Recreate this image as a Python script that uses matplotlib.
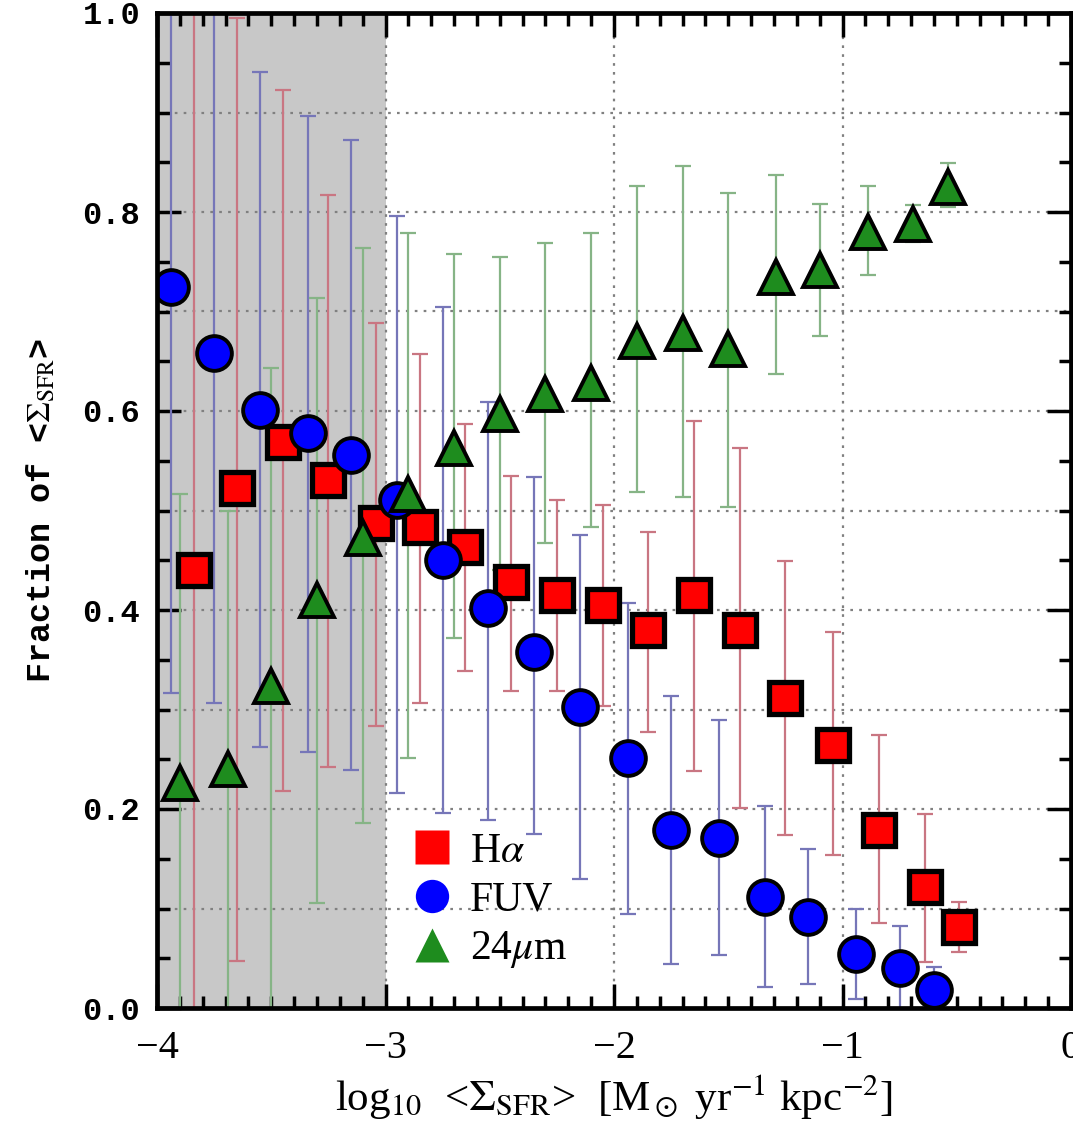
import matplotlib
matplotlib.use("Agg")
import matplotlib.pyplot as plt
import numpy as np
from matplotlib.ticker import MultipleLocator, FixedLocator, FuncFormatter
from matplotlib.lines import Line2D

plt.rcParams['mathtext.fontset'] = 'stix'

# ---- data ----
x_ha = [-3.84, -3.65, -3.45, -3.25, -3.04, -2.85, -2.65, -2.45, -2.25, -2.05,
        -1.85, -1.65, -1.45, -1.25, -1.04, -0.84, -0.64, -0.49]
y_ha = [0.440, 0.523, 0.569, 0.531, 0.487, 0.483, 0.463, 0.428, 0.415, 0.405,
        0.380, 0.415, 0.380, 0.312, 0.264, 0.179, 0.122, 0.081]
ha_hi = [1.05, 0.995, 0.923, 0.817, 0.688, 0.657, 0.587, 0.535, 0.511, 0.506,
         0.478, 0.590, 0.563, 0.449, 0.378, 0.274, 0.195, 0.107]
ha_lo = [-0.05, 0.047, 0.218, 0.242, 0.283, 0.307, 0.339, 0.319, 0.319, 0.304,
         0.277, 0.238, 0.201, 0.174, 0.154, 0.085, 0.046, 0.056]

x_fuv = [-3.94, -3.75, -3.55, -3.34, -3.15, -2.95, -2.75, -2.55, -2.35, -2.15,
         -1.94, -1.75, -1.54, -1.34, -1.15, -0.94, -0.75, -0.60]
y_fuv = [0.725, 0.658, 0.601, 0.578, 0.556, 0.511, 0.450, 0.402, 0.358, 0.303,
         0.251, 0.179, 0.171, 0.112, 0.091, 0.054, 0.040, 0.018]
fuv_hi = [1.05, 1.05, 0.941, 0.896, 0.872, 0.796, 0.705, 0.609, 0.534, 0.475,
          0.407, 0.314, 0.289, 0.203, 0.160, 0.100, 0.082, 0.041]
fuv_lo = [0.317, 0.307, 0.262, 0.257, 0.239, 0.216, 0.196, 0.189, 0.175, 0.130,
          0.094, 0.044, 0.053, 0.021, 0.024, 0.009, -0.05, -0.05]

x_24 = [-3.90, -3.69, -3.50, -3.30, -3.10, -2.90, -2.70, -2.50, -2.30, -2.10,
        -1.90, -1.70, -1.50, -1.29, -1.10, -0.89, -0.69, -0.54]
y_24 = [0.226, 0.240, 0.324, 0.410, 0.472, 0.517, 0.563, 0.597, 0.617, 0.628,
        0.670, 0.678, 0.662, 0.735, 0.742, 0.780, 0.788, 0.825]
hi_24 = [0.517, 0.500, 0.643, 0.714, 0.764, 0.779, 0.758, 0.755, 0.769, 0.779,
         0.826, 0.846, 0.819, 0.837, 0.808, 0.826, 0.807, 0.849]
lo_24 = [-0.05, -0.05, -0.05, 0.106, 0.186, 0.251, 0.372, 0.440, 0.467, 0.483,
         0.519, 0.514, 0.504, 0.637, 0.675, 0.737, 0.770, 0.805]

labels = [r"H$\alpha$", "FUV", r"24$\mu$m"]
x_ticks = [-4, -3, -2, -1, 0]
y_ticks = [0.0, 0.2, 0.4, 0.6, 0.8, 1.0]
shade_range = [-4, -3]

# ---- figure ----
W, H = 1073, 1126
fig = plt.figure(figsize=(W / 100, H / 100), dpi=100)
ax = fig.add_axes([157 / W, 1 - 1008 / H, (1071 - 157) / W, (1008 - 13) / H])
ax.set_xlim(-4, 0)
ax.set_ylim(0, 1)

ax.axvspan(shade_range[0], shade_range[1], color='#c8c8c8', lw=0, zorder=0)

gcol = '#808080'
for yv in np.arange(0.1, 0.95, 0.1):
    ax.axhline(yv, color=gcol, lw=1.6, ls=(0, (1.2, 2.8)), zorder=1)
for xv in [-3, -2, -1]:
    ax.axvline(xv, color=gcol, lw=1.6, ls=(0, (1.2, 2.8)), zorder=1)


def err(y, lo, hi):
    y = np.array(y); lo = np.array(lo); hi = np.array(hi)
    return [y - lo, hi - y]


ekw = dict(fmt='none', elinewidth=1.6, capsize=6, capthick=1.6)
ax.errorbar(x_ha, y_ha, yerr=err(y_ha, ha_lo, ha_hi), ecolor='#c97682', zorder=2, **ekw)
ax.errorbar(x_fuv, y_fuv, yerr=err(y_fuv, fuv_lo, fuv_hi), ecolor='#7676b8', zorder=2, **ekw)
ax.errorbar(x_24, y_24, yerr=err(y_24, lo_24, hi_24), ecolor='#86b486', zorder=2, **ekw)

ax.plot(x_ha, y_ha, 's', ms=23, mfc='#ff0000', mec='black', mew=3.8, ls='none', zorder=3)
ax.plot(x_fuv, y_fuv, 'o', ms=25, mfc='#0000ff', mec='black', mew=2.8, ls='none', zorder=4)
ax.plot(x_24, y_24, '^', ms=25, mfc='#1e8c1e', mec='black', mew=2.8, ls='none', zorder=5)

# legend
handles = [
    Line2D([], [], marker='s', ls='none', ms=24, mfc='#ff0000', mec='none'),
    Line2D([], [], marker='o', ls='none', ms=24, mfc='#0000ff', mec='none'),
    Line2D([], [], marker='^', ls='none', ms=24, mfc='#1e8c1e', mec='none'),
]
leg = ax.legend(handles, labels, loc='lower left', bbox_to_anchor=(0.26, 0.021),
                frameon=False, prop={'family': 'Liberation Serif', 'size': 30},
                handlelength=1.0, handletextpad=0.4, labelspacing=0.24,
                borderaxespad=0.0)
leg.set_zorder(6)

# ticks
ax.xaxis.set_major_locator(FixedLocator(x_ticks))
ax.yaxis.set_major_locator(FixedLocator(y_ticks))
ax.xaxis.set_minor_locator(MultipleLocator(0.1))
ax.yaxis.set_minor_locator(MultipleLocator(0.05))
ax.xaxis.set_major_formatter(FuncFormatter(lambda v, p: f"{int(round(v))}".replace('-', '\u2212')))
ax.yaxis.set_major_formatter(FuncFormatter(lambda v, p: f"{v:.1f}"))
ax.tick_params(which='both', direction='in', top=True, right=True, width=2.5, color='black')
ax.tick_params(which='major', length=17)
ax.tick_params(which='minor', length=9)
ax.tick_params(axis='x', which='major', pad=16)
ax.tick_params(axis='y', which='major', pad=12)
for t in ax.get_xticklabels():
    t.set_fontfamily('Liberation Serif'); t.set_fontsize(29)
for t in ax.get_yticklabels():
    t.set_fontfamily('Liberation Mono'); t.set_fontsize(23); t.set_fontweight('bold')

for s in ax.spines.values():
    s.set_linewidth(3.4)
    s.set_zorder(7)

ax.set_xlabel(r"log$_{10}$  <$\Sigma_{\rm SFR}$>  [M$_\odot$ yr$^{-1}$ kpc$^{-2}$]",
              fontfamily='Liberation Serif', fontsize=31, labelpad=4)
ax.set_ylabel(r"Fraction of <$\Sigma_{\rm SFR}$>", fontfamily='Liberation Mono',
              fontweight='bold', fontsize=24, labelpad=18)

fig.savefig("out.png", dpi=100)
